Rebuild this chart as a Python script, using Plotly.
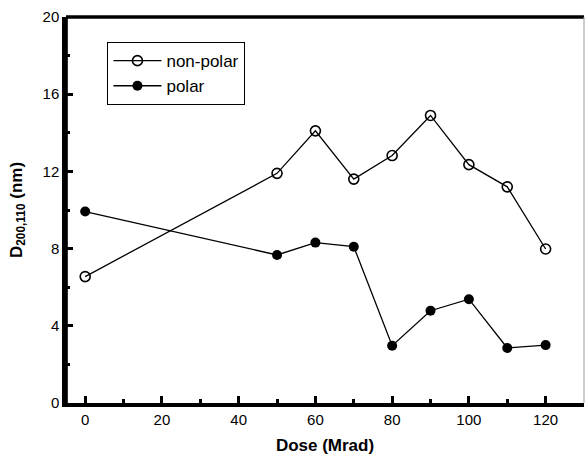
import plotly.graph_objects as go

dose = [0, 50, 60, 70, 80, 90, 100, 110, 120]
nonpolar = [6.55, 11.9, 14.1, 11.6, 12.82, 14.9, 12.35, 11.2, 7.98]
polar = [9.92, 7.67, 8.31, 8.1, 2.97, 4.78, 5.38, 2.85, 3.0]

fig = go.Figure()
fig.add_trace(go.Scatter(x=dose, y=nonpolar, name="non-polar", mode="lines+markers",
                         line=dict(color="black", width=1.3),
                         marker=dict(symbol="circle-open", size=10, color="black", line=dict(width=1.6))))
fig.add_trace(go.Scatter(x=dose, y=polar, name="polar", mode="lines+markers",
                         line=dict(color="black", width=1.3),
                         marker=dict(symbol="circle", size=10, color="black")))

fam = "Liberation Sans, Arial"
axfont = dict(family=fam, size=15, color="black")
fig.update_layout(
    width=585, height=457,
    margin=dict(l=66, r=1, t=17, b=54),
    plot_bgcolor="white", paper_bgcolor="white",
    font=axfont,
    showlegend=True,
    legend=dict(x=0.08, y=0.935, xanchor="left", yanchor="top",
                bordercolor="black", borderwidth=1, bgcolor="white",
                font=dict(family=fam, size=17, color="black"),
                itemwidth=48, tracegroupgap=0),
    xaxis=dict(range=[-5, 130], tickvals=[0, 20, 40, 60, 80, 100, 120],
               ticks="inside", ticklen=7, tickwidth=2.5, tickcolor="black",
               minor=dict(tickvals=[10, 30, 50, 70, 90, 110], ticks="inside", ticklen=4, tickwidth=2.5, tickcolor="black"),
               showline=True, linecolor="black", linewidth=3.5, showgrid=False, zeroline=False, automargin=False,
               tickfont=axfont,
               title=dict(text="<b>Dose (Mrad)</b>", font=dict(family=fam, size=17, color="black"), standoff=13)),
    yaxis=dict(range=[0, 20], tickvals=[0, 4, 8, 12, 16, 20],
               ticks="inside", ticklen=7, tickwidth=2.5, tickcolor="black",
               minor=dict(tickvals=[2, 6, 10, 14, 18], ticks="inside", ticklen=4, tickwidth=2.5, tickcolor="black"),
               showline=True, linecolor="black", linewidth=3.5, showgrid=False, zeroline=False, automargin=False,
               tickfont=axfont,
               title=dict(text="<b>D<sub>200,110</sub> (nm)</b>", font=dict(family=fam, size=17, color="black"), standoff=17)),
)
# top spine and thin right edge
fig.add_shape(type="line", xref="paper", yref="paper", x0=0, x1=1, y0=1, y1=1,
              line=dict(color="black", width=3.5), layer="above")
fig.add_shape(type="line", xref="paper", yref="paper", x0=1, x1=1, y0=0, y1=1,
              line=dict(color="#999999", width=1), layer="above")
# reinforce left spine as a filled bar
fig.add_shape(type="rect", xref="paper", yref="paper", x0=-0.0035, x1=0.0035, y0=0, y1=1,
              fillcolor="black", line=dict(width=0), layer="above")

fig.write_html("out.html", config={"displayModeBar": False},
               post_script="document.body.style.margin='0';document.body.style.overflow='hidden';")
